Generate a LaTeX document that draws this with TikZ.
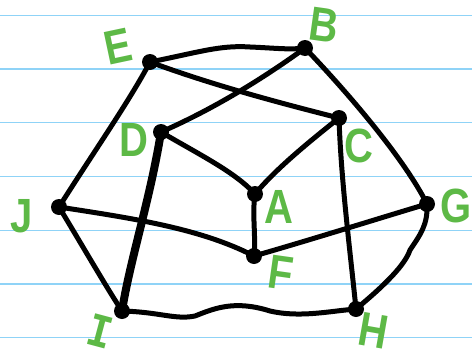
\documentclass[tikz,border=0pt]{standalone}
\usepackage{fontspec}
\setmainfont{Liberation Sans}
\newfontfamily\monofnt{Liberation Mono}
\definecolor{rule}{HTML}{8FD3F7}
\definecolor{lab}{HTML}{5DB946}
\newcommand{\tallt}[1]{\scalebox{1}[1.2]{#1}}
\tikzset{
  vtx/.style={circle,fill=black,inner sep=0pt,minimum size=16pt},
  edge/.style={line width=5pt,line cap=round,line join=round},
  thickedge/.style={line width=8pt,line cap=round,line join=round},
  lbl/.style={text=lab,font=\fontsize{40}{40}\selectfont\bfseries,inner sep=0pt},
  ruling/.style={rule,line width=1.3pt}
}
\begin{document}
\begin{tikzpicture}[x=1pt,y=-1pt]
\useasboundingbox (0,0) rectangle (472,362);
\fill[white] (0,0) rectangle (472,362);
\foreach \yy in {15.5,69,122.6,176.3,230.2,284,337.3}
  \draw[ruling] (0,\yy) -- (472,\yy);
% vertices
\node[vtx] (E) at (150,62) {};
\node[vtx] (B) at (305,48) {};
\node[vtx] (D) at (161,132) {};
\node[vtx] (C) at (339,118) {};
\node[vtx] (A) at (255,194) {};
\node[vtx] (J) at (59,207) {};
\node[vtx] (G) at (427,204) {};
\node[vtx] (F) at (254,256) {};
\node[vtx] (I) at (122,311) {};
\node[vtx] (H) at (356,309) {};
% edges
\draw[edge] (E.center) .. controls (200,52) and (220,45) .. (250,47) .. controls (275,48) and (290,50) .. (B.center);
\draw[edge] (E.center) .. controls (220,88) and (300,108) .. (C.center);
\draw[edge] (B.center) .. controls (250,88) and (200,115) .. (D.center);
\draw[edge] (E.center) .. controls (130,100) and (95,150) .. (J.center);
\draw[edge] (B.center) .. controls (350,95) and (405,160) .. (G.center);
\draw[edge] (D.center) .. controls (200,155) and (235,172) .. (A.center);
\draw[edge] (C.center) .. controls (305,145) and (275,170) .. (A.center);
\draw[edge] (C.center) .. controls (341,180) and (350,250) .. (H.center);
\draw[thickedge] (D.center) .. controls (150,200) and (130,260) .. (I.center);
\draw[edge] (A.center) .. controls (252,215) and (256,235) .. (F.center);
\draw[edge] (J.center) .. controls (130,218) and (200,228) .. (F.center);
\draw[edge] (F.center) .. controls (310,240) and (380,218) .. (G.center);
\draw[edge] (J.center) .. controls (85,250) and (105,285) .. (I.center);
\draw[edge] (I.center) .. controls (160,312) and (175,320) .. (195,316)
  .. controls (215,308) and (235,300) .. (270,311)
  .. controls (300,318) and (330,311) .. (H.center);
\draw[edge] (H.center) .. controls (385,285) and (405,265) .. (410,250)
  .. controls (420,235) and (428,225) .. (G.center);
% labels
\node[lbl,rotate=12] (lE) at (118,47) {\tallt{E}};
\node[lbl,rotate=-8] (lB) at (324,25) {\tallt{B}};
\node[lbl] (lD) at (134,140) {\tallt{D}};
\node[lbl] (lC) at (359,146) {\tallt{C}};
\node[lbl] (lA) at (279,207) {\tallt{A}};
\node[lbl] (lJ) at (22,216) {\tallt{J}};
\node[lbl] (lG) at (456,206) {\tallt{G}};
\node[lbl,rotate=-8] (lF) at (281,273) {\tallt{F}};
\node[lbl,rotate=-15,font=\fontsize{40}{40}\selectfont\monofnt\bfseries] (lI) at (100,331) {\tallt{I}};
\node[lbl,rotate=-10] (lH) at (374,331) {\tallt{H}};
\end{tikzpicture}
\end{document}
